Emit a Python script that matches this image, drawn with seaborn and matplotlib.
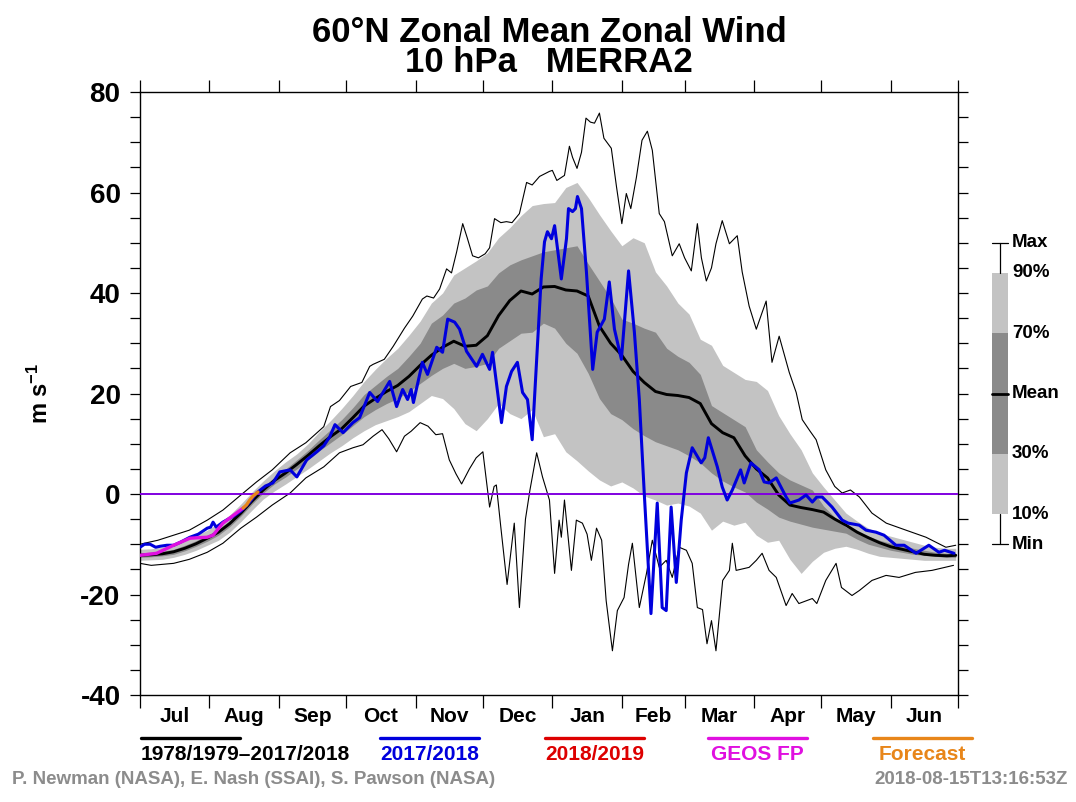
import matplotlib
matplotlib.use("Agg")
import matplotlib.pyplot as plt
from matplotlib.patches import Rectangle
from matplotlib.ticker import FixedLocator, NullFormatter
import seaborn as sns

# days since 1 July; climatology sampled every 5 days
days = list(range(0, 365, 5)) + [364]

clim_mean = [-12.2, -12.1, -11.9, -11.5, -10.8, -9.9, -8.8, -7.6, -5.9, -3.8,
             -1.4, 0.8, 2.7, 4.2, 5.9, 7.7, 9.6, 11.4, 13.0, 15.2,
             17.5, 19.0, 20.4, 21.6, 23.4, 25.6, 27.6, 29.2, 30.4, 29.4,
             29.6, 31.5, 35.5, 38.5, 40.4, 39.8, 41.2, 41.3, 40.6, 40.4,
             39.4, 33.4, 30.0, 27.6, 24.4, 22.2, 20.4, 19.8, 19.6, 19.2,
             18.0, 14.0, 12.2, 11.2, 7.6, 5.0, 3.2, -0.2, -2.2, -2.7,
             -3.1, -3.6, -5.0, -6.2, -7.6, -8.7, -9.7, -10.5, -11.0, -11.5,
             -12.0, -12.2, -12.3, -12.2]

p90 = [-11.0, -10.9, -10.6, -10.0, -9.2, -8.3, -7.2, -5.8, -4.2, -2.0,
       0.4, 2.6, 4.6, 6.4, 8.0, 10.0, 12.4, 14.6, 17.0, 19.6,
       22.4, 24.8, 27.0, 29.0, 31.6, 34.4, 38.0, 40.0, 43.6, 45.0,
       46.4, 48.0, 51.0, 53.0, 55.4, 57.4, 57.8, 58.0, 61.0, 62.0,
       59.0, 55.6, 52.4, 49.4, 51.0, 50.0, 44.2, 41.4, 38.0, 35.8,
       30.8, 29.6, 25.6, 24.2, 22.8, 22.4, 20.6, 15.6, 12.0, 8.8,
       4.2, 1.4, -1.2, -3.8, -5.4, -6.8, -7.8, -8.4, -9.0, -9.6,
       -10.2, -10.6, -10.8, -10.8]

p70 = [-11.7, -11.6, -11.4, -11.0, -10.2, -9.3, -8.2, -7.0, -5.3, -3.2,
       -0.8, 1.4, 3.4, 5.0, 6.8, 8.7, 10.8, 12.8, 14.8, 17.2,
       19.8, 21.6, 23.4, 25.0, 27.4, 30.0, 34.0, 35.6, 38.0, 39.0,
       40.6, 41.4, 44.0, 45.6, 46.6, 47.4, 48.2, 48.6, 49.0, 49.4,
       45.8, 42.4, 39.0, 34.8, 34.0, 33.0, 32.2, 29.0, 27.4, 26.2,
       23.8, 17.6, 16.2, 14.8, 13.4, 8.8, 6.4, 4.2, 2.8, 1.8,
       0.8, -2.4, -4.6, -6.6, -7.6, -8.4, -9.2, -9.8, -10.2, -10.8,
       -11.2, -11.6, -11.8, -11.8]

p30 = [-12.6, -12.5, -12.3, -12.0, -11.3, -10.4, -9.4, -8.2, -6.5, -4.4,
       -2.0, 0.2, 2.0, 3.4, 5.0, 6.8, 8.6, 10.2, 11.8, 13.6,
       15.4, 16.8, 18.0, 19.0, 20.4, 22.0, 23.6, 25.0, 26.0, 25.0,
       25.4, 26.0, 29.0, 30.5, 32.0, 32.2, 34.0, 33.0, 30.0, 28.0,
       24.0, 19.0, 16.0, 14.8, 13.0, 11.6, 10.4, 9.6, 8.8, 7.6,
       6.2, 4.2, 2.6, 1.4, 0.4, -1.6, -3.0, -4.6, -5.4, -6.0,
       -6.6, -7.0, -7.4, -7.8, -9.0, -10.0, -10.6, -11.2, -11.6, -12.0,
       -12.2, -12.4, -12.6, -12.6]

p10 = [-13.2, -13.1, -13.0, -12.6, -12.0, -11.2, -10.2, -9.2, -7.6, -5.5,
       -3.2, -1.0, 0.6, 2.0, 3.5, 5.0, 6.6, 8.2, 9.6, 11.2,
       12.6, 13.8, 14.6, 15.4, 16.4, 18.0, 19.6, 19.0, 17.0, 14.0,
       12.6, 15.0, 18.0, 16.0, 15.0, 16.8, 11.4, 12.0, 8.4, 6.6,
       4.6, 2.8, 1.6, 2.4, 1.2, -0.4, -1.2, -2.2, -1.8, -2.4,
       -3.8, -7.2, -5.4, -6.2, -5.6, -8.2, -9.6, -9.2, -13.0, -15.8,
       -13.4, -11.6, -10.8, -10.4, -11.0, -11.8, -12.4, -12.6, -12.8, -13.0,
       -13.2, -13.2, -13.2, -13.2]

max_days = [0, 8, 15, 22, 30, 37, 45, 52, 59, 67, 74, 82, 85, 89, 94, 99, 102.5,
            104, 109, 113, 118, 121.7, 126, 128, 131, 133.7, 136.8, 139, 141.3,
            144, 146, 148.4, 151, 154, 156, 158.2, 161, 163.5, 166, 169.3, 172.5,
            175, 178.3, 182.7, 184, 186, 189.4, 191.6, 193, 195, 197, 199, 201,
            202.8, 205, 207, 210.3, 212.6, 215, 217, 219, 221.5, 224, 226.4,
            228.6, 231.7, 234, 237.5, 240.6, 243, 246, 248.7, 250.5, 252.7, 255,
            257, 259.8, 263, 266.5, 268.7, 271.8, 275, 277.5, 279.4, 282, 285.2,
            289.7, 292.8, 295.5, 299, 301.7, 306, 310, 313.3, 317, 321, 326.6,
            333, 341.8, 350.7, 359.6, 364]
max_vals = [-10.0, -9.2, -8.2, -7.2, -5.2, -3.2, -0.2, 2.4, 4.8, 8.2, 10.2, 13.4,
            17.4, 18.6, 21.4, 22.2, 25.4, 25.8, 26.8, 29.4, 33.0, 35.4, 38.8,
            39.4, 39.0, 40.8, 44.8, 44.0, 48.2, 53.8, 51.0, 47.4, 47.0, 47.8,
            49.0, 54.8, 54.0, 54.2, 54.0, 55.8, 62.0, 61.5, 63.2, 64.2, 64.4,
            62.4, 63.4, 69.2, 67.0, 64.8, 68.0, 74.8, 74.0, 73.8, 75.8, 70.8,
            68.8, 61.2, 53.8, 59.8, 56.8, 63.0, 70.4, 72.2, 68.4, 55.8, 54.2,
            47.4, 49.8, 47.0, 44.4, 53.8, 47.0, 42.4, 45.0, 49.8, 54.4, 49.8,
            51.4, 44.2, 37.4, 32.8, 36.0, 38.4, 26.2, 31.4, 24.2, 20.2, 14.8,
            12.5, 10.8, 4.8, 1.5, 0.2, 0.8, -0.6, -3.8, -5.8, -7.2, -8.6,
            -10.6, -10.2]

min_days = [0, 5, 10, 15, 22, 30, 37, 45, 52, 59, 67, 74, 82, 89, 95, 99.5, 104,
            108, 111, 114.5, 118, 121, 125, 128.5, 132, 135, 138, 141, 143.5,
            147, 150, 153, 156, 158, 159, 161, 163.8, 167, 169.3, 172, 174, 177,
            179.6, 182.7, 185, 187, 188, 189.4, 192.5, 194.7, 197.4, 199.5,
            201.4, 203.7, 206, 208, 209.5, 210.8, 213, 216, 218, 219.7, 222.8,
            226, 228.6, 231.7, 234.8, 237.5, 240.6, 243.8, 246.4, 248.7, 251,
            253, 255, 257, 260, 263, 264.3, 266, 271.8, 275, 277.6, 280.7, 283.9,
            288.3, 291, 294, 300, 302, 306, 310.6, 313, 317.7, 321, 326.6, 332.9,
            338.7, 346, 353.4, 363]
min_vals = [-13.8, -14.2, -14.0, -13.8, -13.0, -11.6, -9.8, -6.8, -4.6, -2.2,
            0.2, 3.2, 5.4, 8.2, 9.2, 9.8, 11.5, 12.8, 11.0, 8.4, 11.5, 12.5,
            14.2, 13.5, 11.8, 12.0, 6.8, 4.0, 2.0, 5.0, 7.2, 8.4, -2.6, 1.5, 1.8,
            -6.6, -18.0, -5.8, -22.6, -5.0, 0.8, 8.2, 3.4, -1.2, -15.8, -5.2,
            -8.6, -1.2, -15.2, -5.2, -5.8, -8.0, -13.2, -6.8, -9.2, -21.2, -26.6,
            -31.2, -23.2, -20.6, -14.0, -9.8, -22.6, -15.8, -9.2, -14.6, -13.2,
            -16.6, -10.6, -11.2, -13.8, -22.6, -23.0, -29.8, -25.2, -31.2, -17.2,
            -15.2, -9.8, -15.2, -14.6, -13.2, -11.8, -15.2, -16.6, -22.2, -19.8,
            -21.8, -20.8, -21.8, -17.2, -13.8, -18.6, -20.2, -19.2, -17.2, -16.2,
            -16.6, -15.6, -15.2, -14.2]

# 2017/2018 season
blue_days = [0, 2, 4.5, 7, 9, 12, 15, 18, 22.3, 26, 30, 31.5, 32.6, 34, 37, 41,
             45, 49, 52, 56, 59.3, 62.4, 67, 70, 74.4, 78.9, 82, 84.7, 87, 90.6,
             95, 98, 102.5, 106, 111.4, 114.5, 117.2, 119.4, 121, 122, 126, 128.3,
             132.4, 135, 137.3, 140.4, 142.6, 145.7, 150.2, 152.8, 156, 157.3,
             161.3, 163.5, 165.8, 168.4, 170.7, 172.9, 175, 179, 180.5, 181.8,
             183.6, 185, 188, 190.3, 191.2, 193, 194.3, 195.2, 197, 199.2, 202,
             204, 207.2, 209.4, 211.7, 214.8, 218, 220.6, 222.8, 225, 228, 230.8,
             233, 234.8, 237, 239.3, 241.5, 243.8, 246.4, 250.4, 252, 253.6,
             257.6, 259.8, 262, 264.3, 268, 269.6, 272.6, 276.3, 278.5, 280.7,
             283.9, 288.3, 290, 294, 297.2, 300, 302, 304.4, 308.8, 313.3, 316,
             320.9, 324, 328.4, 332, 337.3, 341, 346.3, 352, 356.5, 359, 363.2]
blue_vals = [-10.6, -10.0, -10.0, -10.6, -10.4, -10.2, -10.2, -9.6, -8.6, -8.0,
             -6.8, -6.6, -5.6, -6.6, -5.6, -4.6, -3.4, -1.6, 0.2, 1.6, 2.2, 4.4,
             4.8, 3.4, 6.8, 8.4, 9.6, 11.4, 13.8, 12.2, 14.2, 15.2, 20.2, 18.4,
             22.4, 17.4, 20.8, 18.8, 20.8, 18.2, 26.2, 23.8, 29.2, 28.2, 34.8,
             34.2, 32.8, 28.4, 25.4, 27.8, 24.8, 28.2, 14.2, 21.4, 24.4, 26.2,
             20.2, 18.8, 10.8, 42.8, 50.2, 52.2, 50.8, 53.4, 42.8, 50.8, 56.8,
             56.2, 56.8, 59.2, 56.8, 44.2, 24.8, 32.2, 34.8, 42.2, 32.8, 26.8,
             44.4, 32.2, 18.8, 0.2, -23.8, -1.8, -22.6, -23.2, -2.6, -17.6, -5.2,
             4.2, 9.2, 6.2, 7.2, 11.2, 5.4, 1.4, -1.2, 0.8, 4.8, 2.2, 6.2, 4.8,
             2.4, 2.2, 3.2, -0.6, -1.8, -1.2, -0.2, -1.6, -0.6, -0.6, -2.6, -5.2,
             -5.8, -6.2, -7.2, -7.6, -8.2, -10.2, -10.2, -11.8, -10.2, -11.6,
             -11.2, -11.8]

# GEOS FP analysis and forecast for 2018/2019
geos_days = [0, 7.4, 15, 22.3, 30, 32.6, 37, 43, 46]
geos_vals = [-12.2, -11.8, -10.2, -8.8, -8.6, -8.2, -5.8, -3.8, -2.8]
fcst_days = [46, 47.5, 49, 50.5, 52.6]
fcst_vals = [-2.8, -2.2, -1.2, -0.4, 0.4]

month_edges = [0, 31, 62, 92, 123, 153, 184, 215, 243, 274, 304, 335, 365]
month_names = ["Jul", "Aug", "Sep", "Oct", "Nov", "Dec",
               "Jan", "Feb", "Mar", "Apr", "May", "Jun"]

legend_names = ["1978/1979\u20132017/2018", "2017/2018", "2018/2019", "GEOS FP", "Forecast"]
legend_colors = ["black", "#0000dd", "#dd0000", "#e010e0", "#e8861a"]

light_gray = "#c3c3c3"
dark_gray = "#8a8a8a"

sns.set_theme(style="ticks")
plt.rcParams["font.family"] = ["Liberation Sans", "DejaVu Sans"]
plt.rcParams["font.weight"] = "bold"
plt.rcParams["text.color"] = "black"
plt.rcParams["axes.labelcolor"] = "black"
plt.rcParams["xtick.color"] = "black"
plt.rcParams["ytick.color"] = "black"
plt.rcParams["axes.unicode_minus"] = False
plt.rcParams["mathtext.fontset"] = "custom"
plt.rcParams["mathtext.rm"] = "Liberation Sans:bold"
plt.rcParams["mathtext.default"] = "rm"

fig = plt.figure(figsize=(10.76, 8.02), dpi=100)
ax = fig.add_axes([140 / 1076, 1 - 695 / 802, 818 / 1076, 603 / 802])

# percentile bands
ax.fill_between(days, p10, p90, color=light_gray, lw=0, zorder=1)
ax.fill_between(days, p30, p70, color=dark_gray, lw=0, zorder=2)

sns.lineplot(x=max_days, y=max_vals, ax=ax, color="black", lw=0.8, zorder=3)
sns.lineplot(x=min_days, y=min_vals, ax=ax, color="black", lw=0.8, zorder=3)
sns.lineplot(x=days, y=clim_mean, ax=ax, color="black", lw=2.1, zorder=4)
ax.axhline(0, color="#8000e0", lw=1.4, zorder=5)
sns.lineplot(x=blue_days, y=blue_vals, ax=ax, color=legend_colors[1], lw=2.2, zorder=6)
sns.lineplot(x=geos_days, y=geos_vals, ax=ax, color=legend_colors[3], lw=2.4, zorder=7)
sns.lineplot(x=fcst_days, y=fcst_vals, ax=ax, color=legend_colors[4], lw=2.4, zorder=7)

ax.set_xlim(0, 365)
ax.set_ylim(-40, 80)
ax.set_xlabel("")
ax.set_ylabel("m s$^{-1}$", fontsize=17, fontweight="bold", labelpad=20)

# axes frame and ticks
for sp in ax.spines.values():
    sp.set_visible(True)
    sp.set_linewidth(1.0)
    sp.set_color("black")

ax.set_yticks(range(-40, 81, 20))
ax.yaxis.set_minor_locator(FixedLocator(range(-40, 81, 5)))
ax.yaxis.set_ticks_position("both")
ax.tick_params(axis="y", which="both", direction="out", length=7, width=0.9,
               labelsize=20, pad=7, right=True)

mids = [(a + b) / 2 for a, b in zip(month_edges[:-1], month_edges[1:])]
ax.set_xticks(month_edges)
ax.xaxis.set_major_formatter(NullFormatter())
ax.set_xticks(mids, minor=True)
ax.set_xticklabels(month_names, minor=True)
ax.xaxis.set_ticks_position("both")
ax.tick_params(axis="x", which="major", direction="out", length=9, width=0.9)
ax.tick_params(axis="x", which="minor", length=0, labelsize=15, pad=9)
for lab in ax.get_xticklabels(minor=True) + ax.get_yticklabels():
    lab.set_fontweight("bold")

# side key for the shading
tr = ax.get_yaxis_transform()
x0, w = 1.0416, 0.0196
xc = x0 + w / 2
ax.add_patch(Rectangle((x0, -4), w, 48, transform=tr, color=light_gray, clip_on=False, lw=0))
ax.add_patch(Rectangle((x0, 8), w, 24, transform=tr, color=dark_gray, clip_on=False, lw=0))
ax.plot([x0, x0 + w], [20, 20], transform=tr, color="black", lw=2, clip_on=False)
ax.plot([xc, xc], [44, 50], transform=tr, color="black", lw=0.9, clip_on=False)
ax.plot([xc, xc], [-10, -4], transform=tr, color="black", lw=0.9, clip_on=False)
ax.plot([x0, x0 + w], [50, 50], transform=tr, color="black", lw=0.9, clip_on=False)
ax.plot([x0, x0 + w], [-10, -10], transform=tr, color="black", lw=0.9, clip_on=False)
for val, lab in zip([50, 44, 32, 20, 8, -4, -10],
                    ["Max", "90%", "70%", "Mean", "30%", "10%", "Min"]):
    ax.text(1.066, val, lab, transform=tr, ha="left", va="center",
            fontsize=13.5, fontweight="bold", clip_on=False)

# titles
fig.text(549 / 1076, 1 - 32 / 802, "60\u00b0N Zonal Mean Zonal Wind", ha="center",
         va="center", fontsize=25, fontweight="bold")
fig.text(549 / 1076, 1 - 62 / 802, "10 hPa   MERRA2", ha="center",
         va="center", fontsize=25, fontweight="bold")

# bottom legend
line_left = [141, 380, 545, 708, 873]
for i, (name, col) in enumerate(zip(legend_names, legend_colors)):
    xl = line_left[i] / 1076
    xr = (line_left[i] + 99) / 1076
    fig.add_artist(plt.Line2D([xl, xr], [1 - 738 / 802] * 2, color=col, lw=2.4,
                              transform=fig.transFigure))
    if i == 0:
        fig.text(xl, 1 - 755 / 802, name, ha="left", va="center", color=col,
                 fontsize=15, fontweight="bold")
    else:
        fig.text((xl + xr) / 2, 1 - 755 / 802, name, ha="center", va="center",
                 color=col, fontsize=15, fontweight="bold")

fig.text(12 / 1076, 1 - 780 / 802, "P. Newman (NASA), E. Nash (SSAI), S. Pawson (NASA)",
         ha="left", va="center", color="#8c8c8c", fontsize=13.5, fontweight="bold")
fig.text(1068 / 1076, 1 - 780 / 802, "2018-08-15T13:16:53Z", ha="right", va="center",
         color="#8c8c8c", fontsize=13.5, fontweight="bold")

fig.savefig("out.png", dpi=100, facecolor="white")
